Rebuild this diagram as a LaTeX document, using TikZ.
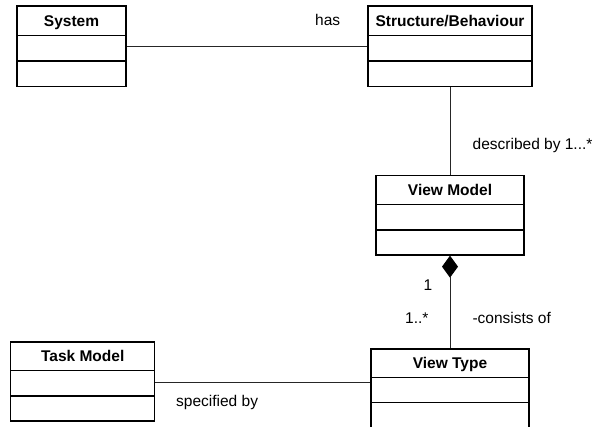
\documentclass[tikz,border=0pt]{standalone}
\usepackage{fontspec}
\setmainfont{Liberation Sans}
\usetikzlibrary{fit,arrows.meta}

\newcommand\umlsize{\fontsize{15.5}{18}\selectfont}

% A UML class: name, title, left, top, right, bottom, first and second divider
\newcommand\umlclass[8]{%
  \node[classbox, fit={(#3,#4) (#5,#6)}] (#1) {};
  \draw[divider] (#1.west |- 0,#7) -- (#1.east |- 0,#7);
  \draw[divider] (#1.west |- 0,#8) -- (#1.east |- 0,#8);
  \node[classtitle] (#1-title) at ({(#3+#5)/2},{(#4+#7)/2}) {#2};
}

\tikzset{
  classbox/.style={draw=black, line width=1.3pt, inner sep=0pt},
  divider/.style={draw=black, line width=1.3pt},
  classtitle/.style={inner sep=0pt, text height=11.1pt, text depth=0pt,
    anchor=center, font=\umlsize\bfseries},
  assoc/.style={draw=black!85, line width=1pt},
  assoclabel/.style={inner sep=0pt, anchor=base west, font=\umlsize},
}

\begin{document}
\begin{tikzpicture}[x=1pt, y=-1pt]
  \clip (0,0) rectangle (593,426);

  % classes
  \umlclass{sys}{System}{17}{6}{126}{86.5}{35.3}{61}
  \umlclass{sb}{Structure/Behaviour}{368}{6}{532}{86.5}{35.5}{61}
  \umlclass{vm}{View Model}{376}{175.7}{524}{255}{204.3}{230}
  \umlclass{tm}{Task Model}{10.7}{342}{154.7}{421}{370.7}{396}
  \umlclass{vt}{View Type}{371}{349}{529}{428.5}{377.7}{402.7}

  % associations
  \draw[assoc] (sys) -- (sb);
  \draw[assoc] (sb.south) -- (vm.north);
  \draw[assoc, {Diamond[length=22pt, width=16pt, black]}-] (vm.south) -- (vt.north);
  \draw[assoc] ([yshift=-1pt]tm.east) coordinate (tmlink) -- (tmlink -| vt.west);

  % association labels
  \node[assoclabel] (has) at (315,25) {has};
  \node[assoclabel] (described) at (472.5,149.5) {described by 1...*};
  \node[assoclabel] (mult-one) at (423.3,290.7) {1};
  \node[assoclabel] (mult-many) at (405,323.3) {1..*};
  \node[assoclabel] (consists) at (472.3,323.3) {-consists of};
  \node[assoclabel] (specified) at (176,406.5) {specified by};
\end{tikzpicture}
\end{document}
